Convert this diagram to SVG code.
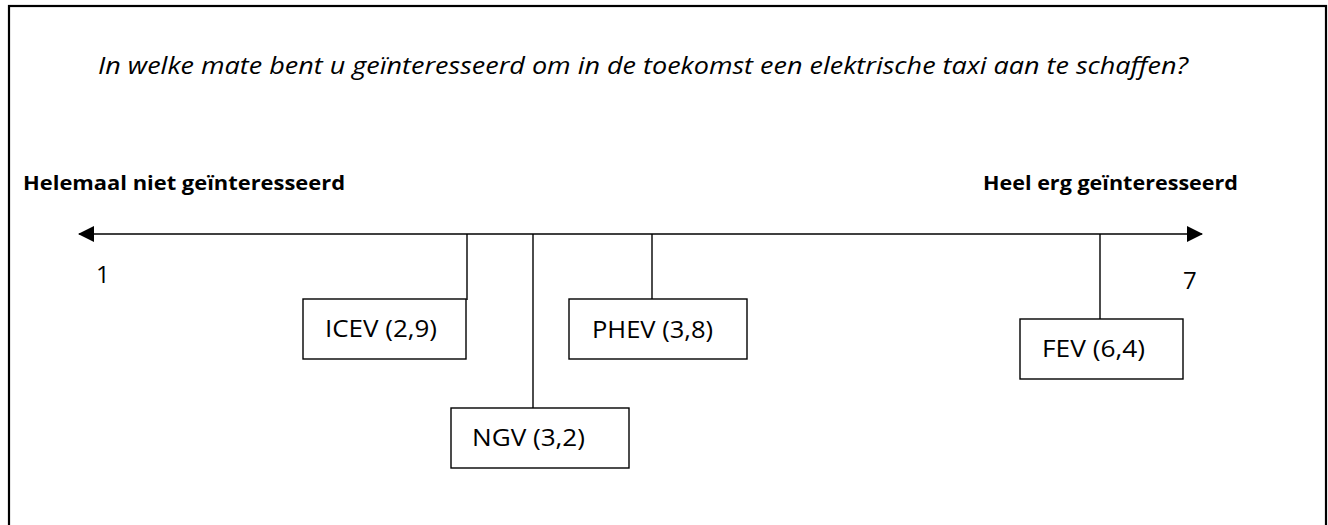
<svg xmlns="http://www.w3.org/2000/svg" width="1328" height="525" viewBox="0 0 1328 525">
<style>
text{font-family:"Open Sans","Liberation Sans",sans-serif;fill:#000}
.title{font-size:23px;font-style:italic}
.end{font-size:20px;font-weight:bold}
.lbl{font-size:24px}
.box{fill:#fff;stroke:#000;stroke-width:1.4}
.ln{stroke:#000;stroke-width:1.4;fill:none}
</style>
<defs>
<marker id="arr" markerUnits="userSpaceOnUse" markerWidth="16" markerHeight="16" viewBox="0 0 16 16" refX="15" refY="8" orient="auto-start-reverse">
<path d="M0,0 L16,8 L0,16 Z" fill="#000"/>
</marker>
</defs>
<rect x="9" y="6" width="1317" height="540" fill="#fff" stroke="#000" stroke-width="2.2"/>
<text class="title" x="98" y="74" textLength="1090" lengthAdjust="spacingAndGlyphs">In welke mate bent u geïnteresseerd om in de toekomst een elektrische taxi aan te schaffen?</text>
<text class="end" x="23" y="190" textLength="322" lengthAdjust="spacingAndGlyphs">Helemaal niet geïnteresseerd</text>
<text class="end" x="983" y="190" textLength="255" lengthAdjust="spacingAndGlyphs">Heel erg geïnteresseerd</text>
<text class="lbl" x="96" y="283">1</text>
<text class="lbl" x="1183" y="289">7</text>
<g id="connectors">
<line class="ln" x1="79" y1="234" x2="1202" y2="234" marker-start="url(#arr)" marker-end="url(#arr)"/>
<line class="ln" x1="467" y1="234" x2="467" y2="300"/>
<line class="ln" x1="533" y1="234" x2="533" y2="408"/>
<line class="ln" x1="652" y1="234" x2="652" y2="299"/>
<line class="ln" x1="1100" y1="234" x2="1100" y2="319"/>
</g>
<g id="icev">
<rect class="box" x="303" y="299" width="163" height="60"/>
<text class="lbl" x="325" y="337" textLength="112" lengthAdjust="spacingAndGlyphs">ICEV (2,9)</text>
</g>
<g id="ngv">
<rect class="box" x="451" y="408" width="178" height="60"/>
<text class="lbl" x="472" y="446" textLength="113" lengthAdjust="spacingAndGlyphs">NGV (3,2)</text>
</g>
<g id="phev">
<rect class="box" x="569" y="299" width="178" height="60"/>
<text class="lbl" x="592" y="338" textLength="121" lengthAdjust="spacingAndGlyphs">PHEV (3,8)</text>
</g>
<g id="fev">
<rect class="box" x="1020" y="319" width="163" height="60"/>
<text class="lbl" x="1042" y="357" textLength="103" lengthAdjust="spacingAndGlyphs">FEV (6,4)</text>
</g>
</svg>
